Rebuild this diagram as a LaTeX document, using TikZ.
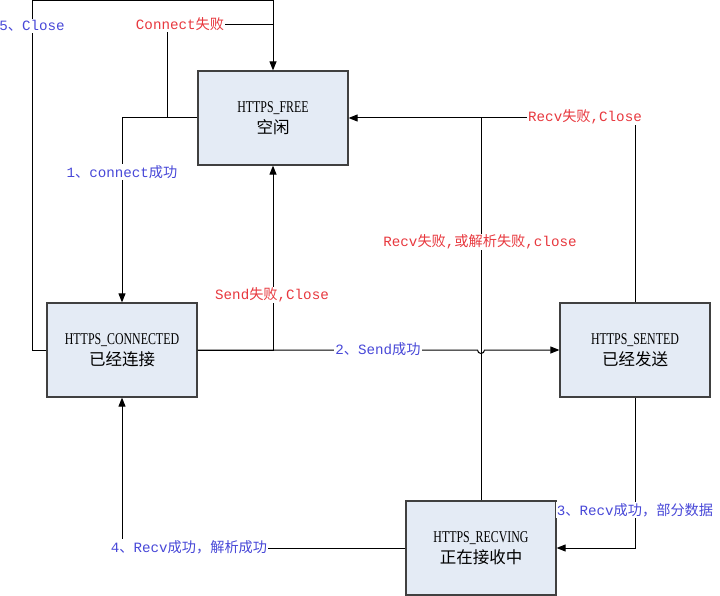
\documentclass[tikz,border=0pt]{standalone}
\usepackage{fontspec}
\usepackage{xcolor}
\usepackage{tikz}
\usetikzlibrary{arrows.meta,positioning,calc}
\newfontfamily\lblfont{Liberation Mono}
\newfontfamily\cjk{Noto Sans CJK SC}
\newfontfamily\boxfont[FakeStretch=0.72]{Liberation Serif}
\newcommand{\zh}[1]{{\cjk #1}}
\definecolor{boxfill}{RGB}{228,235,245}
\definecolor{boxline}{RGB}{64,64,64}
\definecolor{failred}{RGB}{232,56,62}
\definecolor{okblue}{RGB}{72,72,216}
\tikzset{
  state/.style={draw=boxline,line width=1.2pt,fill=boxfill,minimum width=150pt,minimum height=94pt,
    align=center,font=\boxfont\fontsize{16.5}{21}\selectfont},
  fail/.style={fill=white,inner sep=1pt,text=failred,font=\lblfont\fontsize{14.2}{16}\selectfont},
  ok/.style={fill=white,inner sep=1pt,text=okblue,font=\lblfont\fontsize{14.2}{16}\selectfont},
  conn/.style={line width=1pt},
  tip/.style={conn,-{Triangle[length=9pt,width=7pt]}}
}
\begin{document}
\begin{tikzpicture}[x=1pt,y=-1pt]
    \useasboundingbox (0,0) rectangle (720,596);
    \node[state] (free) at (273,118) {HTTPS\_FREE\\\zh{空闲}};
    \node[state] (connected) at (122,350) {HTTPS\_CONNECTED\\\zh{已经连接}};
    \node[state] (sented) at (635,350) {HTTPS\_SENTED\\\zh{已经发送}};
    \node[state] (recving) at (481,548) {HTTPS\_RECVING\\\zh{正在接收中}};

    % corner points
    \coordinate (topleft) at (32,1);
    \coordinate (cfail) at (167,25);
    \coordinate (hop) at (481,350);

    % 5 close, back to free
    \draw[tip] (connected.west) -| (topleft) -| (free.north);
    % connect fail
    \draw[conn] (free.west -| cfail) -- (cfail) -- (cfail -| free.north);
    % 1 connect ok
    \draw[tip] (free.west) -| (connected.north);
    % send fail
    \draw[tip] (connected.east) -| (free.south);
    % 2 send ok, with a hop over the recv line
    \draw[tip] (connected.east) -- ($(hop)+(-3.5,0)$) arc[start angle=180,end angle=0,radius=3.5] -- (sented.west);
    % recv fail from sented
    \draw[tip] (sented.north) |- (free.east);
    % recv fail from recving
    \draw[conn] (recving.north) -- (recving.north |- free.east);
    % 3 recv part
    \draw[tip] (sented.south) |- (recving.east);
    % 4 recv done
    \draw[tip] (recving.west) -| (connected.south);

    % labels
    \node[ok] (lclose) at (32,26) {5\zh{、}Close};
    \node[fail] (lcfail) at (180,24) {Connect\zh{失败}};
    \node[ok] (lcok) at (122,172) {1\zh{、}connect\zh{成功}};
    \node[fail] (lsfail) at (272,295) {Send\zh{失败},Close};
    \node[ok] (lsok) at (378,349) {2\zh{、}Send\zh{成功}};
    \node[fail] (lrfail) at (585,117) {Recv\zh{失败},Close};
    \node[fail] (lpfail) at (480,242) {Recv\zh{失败},\zh{或解析失败},close};
    \node[ok] (lpart) at (635,510) {3\zh{、}Recv\zh{成功，部分数据}};
    \node[ok] (ldone) at (189,547) {4\zh{、}Recv\zh{成功，解析成功}};
\end{tikzpicture}
\end{document}
